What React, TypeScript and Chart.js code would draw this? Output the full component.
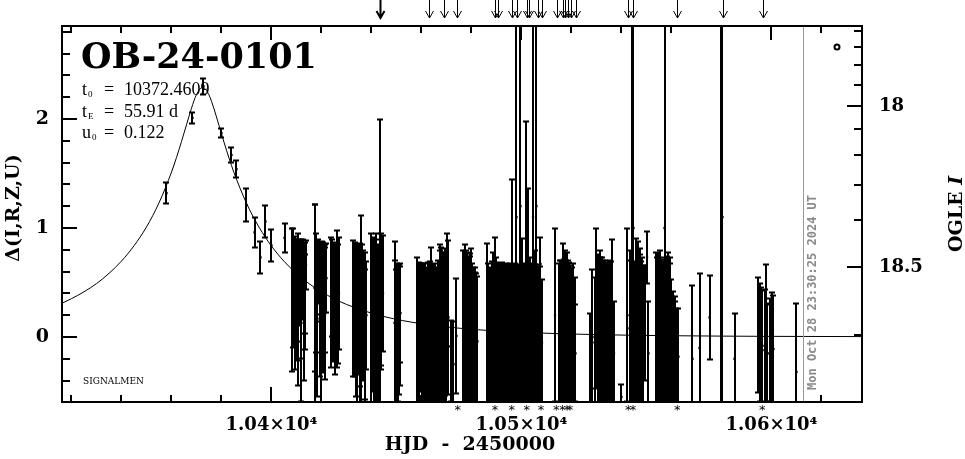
import React, { useEffect, useRef } from "react";
import { Chart, registerables } from "chart.js";
Chart.register(...registerables);

// ---------- axis ranges ----------
const T_MIN = 10316.2;
const T_MAX = 10636.2;
const D_MIN = -0.596;
const D_MAX = 2.853;

// ---------- observations: time, Δ, error ----------
const obsTime = [
  10358.0, 10368.4, 10372.8, 10380.0, 10384.0, 10386.0, 10390.0, 10393.2, 10395.6, 10397.6, 10400.0, 10405.2,
  10408.4, 10409.0, 10409.6, 10410.2, 10410.8, 10411.4, 10412.0, 10412.6, 10413.2, 10413.8,
  10417.2, 10417.6, 10418.4, 10419.2, 10420.0, 10420.8, 10421.6, 10422.0,
  10424.0, 10424.8, 10425.6, 10426.4, 10427.0,
  10432.8, 10433.6, 10434.4, 10435.2, 10436.0, 10436.8, 10437.6, 10438.0,
  10440.0, 10441.0, 10442.0, 10443.2, 10444.0, 10444.6,
  10449.2, 10449.8, 10450.4, 10451.0, 10451.6,
  10458.4, 10459.6, 10460.8, 10462.0, 10463.2, 10464.0, 10464.8, 10465.6,
  10466.4, 10467.2, 10468.0, 10468.8, 10469.6, 10470.4, 10470.8,
  10472.0, 10472.8, 10474.0,
  10476.8, 10477.6, 10478.4, 10479.2, 10480.0, 10480.8, 10481.6, 10482.4,
  10486.4, 10487.2, 10488.0, 10488.8, 10489.4, 10490.0, 10490.8, 10491.6, 10492.4, 10493.2,
  10494.0, 10494.8, 10495.6, 10496.4, 10497.2, 10498.0, 10498.8, 10499.6, 10500.4, 10501.2,
  10502.0, 10502.6, 10503.4, 10504.0, 10504.6, 10505.2, 10506.0, 10506.8, 10507.6, 10508.2,
  10513.4,
  10515.0, 10515.8, 10516.6, 10517.4, 10518.2, 10519.0, 10519.8, 10520.8, 10521.6,
  10527.6, 10528.4, 10530.0, 10530.8, 10531.6, 10532.4, 10533.2, 10534.0, 10534.8, 10535.6, 10536.4, 10537.0,
  10540.0,
  10542.4, 10543.2, 10544.4, 10544.8, 10545.6, 10546.0, 10546.8, 10547.6, 10548.4, 10549.2, 10550.2, 10550.8,
  10554.0, 10554.8, 10555.6, 10557.2, 10558.0, 10558.8, 10559.6, 10560.4, 10561.2, 10562.0, 10562.8,
  10568.4, 10571.2, 10575.2, 10580.0, 10580.4, 10585.2,
  10594.8, 10596.0, 10596.4, 10598.0, 10598.4, 10599.2, 10600.4, 10600.8,
  10610.0,
  // additional points inside the dense clusters
  10408.7, 10409.3, 10409.9, 10410.5, 10411.1, 10411.7, 10412.3, 10412.9, 10413.5,
  10417.9, 10418.8, 10419.6, 10420.4, 10421.2,
  10424.4, 10425.2, 10426.0, 10426.7,
  10433.2, 10434.0, 10434.8, 10435.6, 10436.4, 10437.2,
  10440.5, 10441.5, 10442.5, 10443.8,
  10449.5, 10450.1, 10450.7, 10451.3,
  10459.0, 10460.2, 10461.4, 10462.6, 10463.6, 10465.2,
  10466.8, 10467.6, 10468.4, 10469.2, 10470.0,
  10477.2, 10478.0, 10478.8, 10479.6, 10480.4, 10481.2, 10482.0,
  10486.8, 10487.6, 10488.4, 10489.8, 10491.2, 10492.0, 10492.8, 10493.6, 10494.4, 10495.2,
  10496.0, 10496.8, 10497.6, 10498.4, 10499.2, 10500.0, 10500.8, 10501.6, 10503.0, 10503.8,
  10505.6, 10506.4, 10507.2,
  10515.4, 10516.2, 10517.0, 10517.8, 10518.6, 10519.4, 10520.2, 10521.2,
  10529.2, 10531.2, 10532.0, 10532.8, 10533.6, 10534.4, 10535.2, 10536.0,
  10543.6, 10545.2, 10547.2, 10548.0, 10548.8,
  10554.4, 10555.2, 10556.0, 10556.6, 10557.6, 10558.4, 10559.2, 10560.0, 10560.8, 10561.6,
  10595.4, 10597.2, 10599.6,
];
const obsDelta = [
  1.32, 2.01, 2.30, 1.87, 1.67, 1.54, 1.21, 0.96, 0.73, 1.06, 0.84, 0.91,
  0.34, 0.62, 0.51, 0.28, 0.25, 0.59, 0.13, 0.53, 0.32, 0.66,
  0.45, 0.30, 0.17, 0.54, -0.25, 0.27, 0.22, 0.54,
  0.32, 0.32, 0.39, 0.35, 0.40,
  0.26, 0.25, 0.10, 0.20, 0.22, 0.20, 0.00, 0.20,
  0.15, 0.12, 0.15, 0.65, 0.34, 0.40,
  0.13, -0.02, 0.00, 0.07, 0.22,
  0.05, 0.09, 0.03, 0.00, 0.04, 0.11, 0.02, 0.00,
  0.00, 0.12, 0.25, 0.08, 0.10, 0.43, 0.18,
  -0.22, -0.25, 0.01,
  0.08, 0.12, 0.08, 0.07, 0.10, 0.00, -0.02, -0.04,
  0.12, -0.03, -0.05, 0.08, 0.15, 0.05, 0.02, 0.07, 0.03, 0.02,
  0.02, 0.00, 0.02, 0.40, 0.02, 1.10, 0.00, 1.20, 0.15, 0.02,
  0.68, 0.37, 0.05, 0.03, 1.10, 0.10, 1.20, 0.00, 0.67, -0.05,
  0.20,
  0.02, 0.04, 0.12, 0.13, 0.08, 0.03, -0.02, 0.02, -0.15,
  -0.20, 0.00, 0.26, 0.07, 0.09, 0.05, 0.04, 0.02, 0.02, 0.04, 0.15, -0.15,
  -0.55,
  0.20, 0.08, 1.10, 1.00, -0.02, 0.15, 0.13, 0.10, 0.05, 0.13, 0.73, -0.15,
  0.08, 0.07, 0.09, 1.00, 0.05, 0.08, 0.05, -0.12, -0.12, -0.18, -0.18,
  -0.20, -0.10, 0.18, 1.00, 1.10, -0.20,
  0.02, -0.10, -0.12, 0.02, -0.15, -0.15, -0.10, -0.11,
  -0.32,
  // additional
  0.45, 0.30, 0.60, 0.40, 0.50, 0.35, 0.55, 0.20, 0.45,
  0.40, 0.60, 0.25, 0.50, 0.35,
  0.45, 0.25, 0.50, 0.30,
  0.30, 0.15, 0.25, 0.10, 0.30, 0.10,
  0.20, 0.25, 0.10, 0.30,
  0.05, 0.08, 0.02, 0.10,
  0.03, 0.06, 0.02, 0.05, 0.00, 0.04,
  0.05, 0.10, 0.05, 0.12, 0.02,
  0.05, 0.10, 0.04, 0.06, 0.02, 0.00, -0.03,
  0.02, 0.00, 0.04, 0.03, 0.01, 0.03, 0.00, 0.02, 0.01, 0.03,
  0.00, 0.02, 0.01, 0.03, 0.00, 0.02, 0.01, 0.03, 0.00, 0.02,
  0.01, 0.03, 0.00,
  0.05, 0.02, 0.06, 0.03, 0.05, 0.00, 0.02, -0.05,
  -0.05, 0.05, 0.07, 0.03, 0.05, 0.01, 0.04, 0.02,
  0.05, 0.02, 0.08, 0.04, 0.02,
  0.05, 0.03, 0.06, 0.02, 0.04, 0.06, 0.02, -0.05, -0.10, -0.15,
  -0.05, -0.08, -0.12,
];
const obsErr = [
  0.10, 0.055, 0.08, 0.045, 0.07, 0.08, 0.155, 0.14, 0.155, 0.155, 0.15, 0.14,
  0.66, 0.17, 0.42, 0.50, 0.70, 0.25, 0.73, 0.37, 0.44, 0.23,
  0.77, 0.92, 0.72, 0.335, 0.40, 0.60, 0.61, 0.32,
  0.60, 0.55, 0.41, 0.63, 0.52,
  0.63, 0.62, 0.75, 0.66, 0.90, 0.60, 0.62, 0.50,
  0.80, 0.80, 0.80, 1.35, 0.61, 0.54,
  0.75, 0.64, 0.64, 0.60, 0.46,
  0.68, 0.59, 0.65, 0.64, 0.66, 0.72, 0.65, 0.64,
  0.64, 0.73, 0.58, 0.70, 0.72, 0.52, 0.71,
  0.38, 0.40, 0.53,
  0.72, 0.73, 0.70, 0.70, 0.72, 0.64, 0.62, 0.60,
  0.74, 0.60, 0.58, 0.70, 0.77, 0.68, 0.66, 0.56, 0.66, 0.65,
  0.66, 0.64, 0.66, 1.05, 0.66, 1.90, 0.65, 1.80, 0.76, 0.66,
  1.30, 1.00, 0.68, 0.65, 1.90, 0.70, 1.80, 0.65, 0.245, 0.58,
  0.80,
  0.66, 0.67, 0.74, 0.67, 0.70, 0.66, 0.61, 0.66, 0.45,
  0.42, 0.62, 0.74, 0.69, 0.71, 0.68, 0.67, 0.65, 0.65, 0.67, 0.75, 0.48,
  0.12,
  0.80, 0.72, 1.90, 2.00, 0.62, 0.76, 0.75, 0.72, 0.68, 0.53, 0.24, 0.48,
  0.70, 0.70, 0.71, 2.00, 0.68, 0.70, 0.68, 0.50, 0.50, 0.45, 0.45,
  0.68, 0.69, 0.39, 2.00, 1.90, 0.42,
  0.53, 0.56, 0.55, 0.65, 0.45, 0.46, 0.51, 0.50,
  0.63,
  // additional
  0.55, 0.60, 0.30, 0.45, 0.40, 0.55, 0.30, 0.60, 0.42,
  0.55, 0.30, 0.62, 0.38, 0.50,
  0.45, 0.60, 0.35, 0.55,
  0.55, 0.70, 0.60, 0.72, 0.55, 0.68,
  0.70, 0.65, 0.75, 0.60,
  0.66, 0.60, 0.62, 0.55,
  0.66, 0.62, 0.66, 0.64, 0.66, 0.64,
  0.66, 0.70, 0.68, 0.66, 0.68,
  0.70, 0.70, 0.70, 0.68, 0.66, 0.64, 0.62,
  0.66, 0.64, 0.66, 0.66, 0.65, 0.64, 0.66, 0.64, 0.66, 0.64,
  0.66, 0.65, 0.66, 0.64, 0.66, 0.64, 0.65, 0.64, 0.66, 0.65,
  0.66, 0.64, 0.65,
  0.66, 0.68, 0.66, 0.68, 0.66, 0.66, 0.62, 0.60,
  0.60, 0.68, 0.66, 0.68, 0.64, 0.66, 0.65, 0.68,
  0.66, 0.68, 0.68, 0.66, 0.64,
  0.68, 0.70, 0.66, 0.68, 0.66, 0.68, 0.66, 0.58, 0.52, 0.48,
  0.55, 0.52, 0.48,
];

// ---------- model curve ----------
const modelTime = [
  10316.2, 10320, 10325, 10330, 10335, 10340, 10345, 10350, 10355, 10360, 10362, 10364, 10366, 10368, 10370,
  10372.5, 10375, 10377, 10379, 10381, 10383, 10385, 10390, 10395, 10400, 10405, 10410, 10415, 10420, 10430,
  10445, 10460, 10480, 10500, 10530, 10560, 10600, 10636.2,
];
const modelDelta = [
  0.31, 0.352, 0.415, 0.49, 0.584, 0.697, 0.837, 1.01, 1.231, 1.513, 1.647, 1.794, 1.947, 2.099, 2.224,
  2.29, 2.221, 2.093, 1.941, 1.787, 1.642, 1.508, 1.227, 1.008, 0.834, 0.695, 0.582, 0.49, 0.414, 0.299,
  0.188, 0.122, 0.071, 0.043, 0.022, 0.012, 0.006, 0.004,
];

// ---------- ticks ----------
const xMajorTicks = [10400, 10500, 10600];
const xMinorTicks = [10320, 10340, 10360, 10380, 10420, 10440, 10460, 10480, 10520, 10540, 10560, 10580, 10620];
const yMajorTicks = [0, 1, 2];
const yMinorTicks = [-0.4, -0.2, 0.2, 0.4, 0.6, 0.8, 1.2, 1.4, 1.6, 1.8, 2.2, 2.4, 2.6, 2.8];
const magTickValues = [17.6, 17.7, 17.8, 17.9, 18.0, 18.1, 18.2, 18.3, 18.4, 18.5, 18.6];
const magTickDelta = [2.81, 2.657, 2.492, 2.312, 2.119, 1.905, 1.669, 1.397, 1.069, 0.642, 0.02];
const magMajorLabels = ["18", "18.5"];

// ---------- annotations ----------
const alertTimes = [
  10443.4, 10463.1, 10469.0, 10474.3, 10489.4, 10490.7, 10496.1, 10498.1, 10502.1, 10503.1, 10506.7, 10508.1,
  10514.1, 10516.7, 10517.4, 10518.7, 10519.7, 10521.8, 10542.7, 10544.5, 10562.3, 10580.5, 10596.5,
];
const flagTimes = [
  10474.5, 10489.4, 10496.1, 10502.1, 10507.8, 10513.9, 10516.4, 10518.2, 10519.4, 10542.7, 10544.6, 10562.3, 10596.3,
];
const nowTime = 10612.48;
const nowLabel = "Mon Oct 28 23:30:25 2024 UT";
const eventName = "OB-24-0101";
const paramSymbols = ["t", "t", "u"];
const paramSubs = ["0", "E", "0"];
const paramValues = ["10372.4609", "55.91 d", "0.122"];

const SERIF = "'DejaVu Serif', serif";
const TSERIF = "'Liberation Serif', serif";

const overlay = {
  id: "overlay",
  afterDatasetsDraw(chart: any) {
    const { ctx, chartArea: a, scales } = chart;
    const xs = scales.x;
    const ys = scales.y;
    ctx.save();
    // now line
    ctx.strokeStyle = "#999";
    ctx.lineWidth = 1;
    const nx = Math.round(xs.getPixelForValue(nowTime)) + 0.5;
    ctx.beginPath();
    ctx.moveTo(nx, a.top);
    ctx.lineTo(nx, a.bottom);
    ctx.stroke();

    // error bars
    ctx.beginPath();
    ctx.rect(a.left, a.top, a.right - a.left, a.bottom - a.top);
    ctx.clip();
    ctx.strokeStyle = "#000";
    ctx.lineWidth = 2;
    for (let i = 0; i < obsTime.length; i++) {
      const x = Math.round(xs.getPixelForValue(obsTime[i]));
      const yTop = ys.getPixelForValue(obsDelta[i] + obsErr[i]);
      const yBot = ys.getPixelForValue(obsDelta[i] - obsErr[i]);
      ctx.beginPath();
      ctx.moveTo(x, yTop);
      ctx.lineTo(x, yBot);
      ctx.moveTo(x - 3, Math.round(yTop) + 0.5);
      ctx.lineTo(x + 3, Math.round(yTop) + 0.5);
      ctx.moveTo(x - 3, Math.round(yBot) - 0.5);
      ctx.lineTo(x + 3, Math.round(yBot) - 0.5);
      ctx.stroke();
    }
    ctx.restore();

    ctx.save();
    ctx.strokeStyle = "#000";
    ctx.fillStyle = "#000";
    // frame
    ctx.lineWidth = 2;
    ctx.strokeRect(a.left, a.top, a.right - a.left, a.bottom - a.top);
    const tick = (x1: number, y1: number, x2: number, y2: number) => {
      ctx.beginPath();
      ctx.moveTo(x1, y1);
      ctx.lineTo(x2, y2);
      ctx.stroke();
    };
    xMajorTicks.forEach((v) => {
      const x = Math.round(xs.getPixelForValue(v));
      tick(x, a.bottom, x, a.bottom - 15);
      tick(x, a.top, x, a.top + 14);
    });
    xMinorTicks.forEach((v) => {
      const x = Math.round(xs.getPixelForValue(v));
      tick(x, a.bottom, x, a.bottom - 7);
      tick(x, a.top, x, a.top + 7);
    });
    yMajorTicks.forEach((v) => {
      const y = Math.round(ys.getPixelForValue(v));
      tick(a.left, y, a.left + 15, y);
    });
    yMinorTicks.forEach((v) => {
      const y = Math.round(ys.getPixelForValue(v));
      tick(a.left, y, a.left + 8, y);
    });
    magTickValues.forEach((m, i) => {
      const y = Math.round(ys.getPixelForValue(magTickDelta[i]));
      const major = Math.abs(m * 2 - Math.round(m * 2)) < 1e-6;
      tick(a.right, y, a.right - (major ? 15 : 8), y);
    });

    // alert arrows on top
    alertTimes.forEach((t, i) => {
      const x = Math.round(xs.getPixelForValue(t)) + 0.5;
      ctx.lineWidth = i === 0 ? 2 : 1;
      ctx.beginPath();
      ctx.moveTo(x, 0);
      ctx.lineTo(x, 18);
      ctx.moveTo(x - 4, 11);
      ctx.lineTo(x, 18);
      ctx.lineTo(x + 4, 11);
      ctx.stroke();
    });
    // asterisks under axis
    ctx.font = "13px 'DejaVu Sans'";
    ctx.textAlign = "center";
    ctx.textBaseline = "top";
    flagTimes.forEach((t) => {
      ctx.fillText("*", xs.getPixelForValue(t), a.bottom + 2);
    });

    // event name
    ctx.textAlign = "left";
    ctx.textBaseline = "alphabetic";
    ctx.font = `bold 35px ${SERIF}`;
    ctx.fillText(eventName, 81, 68);
    // params
    const rows = [95, 117, 138];
    paramSymbols.forEach((s, i) => {
      const y = rows[i];
      ctx.font = `18px ${TSERIF}`;
      ctx.fillText(s, 82, y);
      const w = ctx.measureText(s).width;
      ctx.font = `9px ${TSERIF}`;
      ctx.fillText(paramSubs[i], 82 + w + 1, y + 2);
      ctx.font = `18px ${TSERIF}`;
      ctx.fillText("=", 104, y);
      ctx.fillText(paramValues[i], 124, y);
    });
    // SIGNALMEN
    ctx.font = `9px ${SERIF}`;
    ctx.fillText("SIGNALMEN", 83, 384);

    // bottom title
    ctx.font = `bold 19px ${SERIF}`;
    ctx.textAlign = "center";
    ctx.fillText("HJD  -  2450000", 470, 450);

    // left title
    ctx.save();
    ctx.translate(19, 208);
    ctx.rotate(-Math.PI / 2);
    ctx.textAlign = "center";
    ctx.textBaseline = "alphabetic";
    ctx.fillText("Δ(I,R,Z,U)", 0, 0);
    ctx.restore();

    // right title
    ctx.save();
    ctx.translate(962, 214);
    ctx.rotate(-Math.PI / 2);
    ctx.font = `bold 19px ${SERIF}`;
    const p1 = "OGLE ";
    const w1 = ctx.measureText(p1).width;
    ctx.font = `italic bold 19px ${SERIF}`;
    const w2 = ctx.measureText("I").width;
    const start = -(w1 + w2) / 2;
    ctx.textAlign = "left";
    ctx.font = `bold 19px ${SERIF}`;
    ctx.fillText(p1, start, 0);
    ctx.font = `italic bold 19px ${SERIF}`;
    ctx.fillText("I", start + w1, 0);
    ctx.restore();

    // now label
    ctx.save();
    ctx.fillStyle = "#8a8a8a";
    ctx.translate(nx + 12, 390);
    ctx.rotate(-Math.PI / 2);
    ctx.font = "bold 12px 'DejaVu Sans Mono'";
    ctx.textAlign = "left";
    ctx.fillText(nowLabel, 0, 0);
    ctx.restore();

    // small circle marker
    ctx.lineWidth = 2;
    ctx.beginPath();
    ctx.arc(837, 47, 2.5, 0, Math.PI * 2);
    ctx.stroke();
    ctx.restore();
  },
};

export default function App() {
  const ref = useRef<HTMLCanvasElement | null>(null);
  useEffect(() => {
    const canvas = ref.current;
    if (!canvas) return;
    const chart = new Chart(canvas, {
      type: "scatter",
      data: {
        datasets: [
          {
            type: "line",
            data: modelTime.map((t, i) => ({ x: t, y: modelDelta[i] })),
            borderColor: "#000",
            borderWidth: 1,
            pointRadius: 0,
            cubicInterpolationMode: "monotone",
            fill: false,
            xAxisID: "x",
            yAxisID: "y",
          } as any,
          {
            type: "scatter",
            data: obsTime.map((t, i) => ({ x: t, y: obsDelta[i] })),
            pointStyle: "rect",
            pointRadius: 1.6,
            backgroundColor: "#000",
            borderWidth: 0,
            xAxisID: "x",
            yAxisID: "y",
          } as any,
        ],
      },
      options: {
        animation: false,
        responsive: false,
        maintainAspectRatio: false,
        layout: { padding: { top: 26, left: 0, right: 0, bottom: 0 } },
        plugins: { legend: { display: false }, tooltip: { enabled: false } },
        scales: {
          x: {
            type: "linear",
            position: "bottom",
            min: T_MIN,
            max: T_MAX,
            bounds: "data",
            grid: { display: false },
            border: { display: false },
            afterBuildTicks: (s: any) => {
              s.ticks = xMajorTicks.map((v) => ({ value: v }));
            },
            afterFit: (s: any) => {
              s.height = 57;
            },
            ticks: {
              autoSkip: false,
              maxRotation: 0,
              padding: 5,
              color: "#000",
              font: { family: SERIF, size: 18, weight: "bold" },
              callback: (v: any) => (Number(v) / 10000).toFixed(2) + "×10⁴",
            },
          },
          y: {
            type: "linear",
            position: "left",
            min: D_MIN,
            max: D_MAX,
            bounds: "data",
            grid: { display: false },
            border: { display: false },
            afterBuildTicks: (s: any) => {
              s.ticks = yMajorTicks.map((v) => ({ value: v }));
            },
            afterFit: (s: any) => {
              s.width = 62;
            },
            ticks: {
              autoSkip: false,
              padding: 5,
              color: "#000",
              font: { family: SERIF, size: 19, weight: "bold" },
              callback: (v: any) => String(v),
            },
          },
          y2: {
            type: "linear",
            position: "right",
            min: D_MIN,
            max: D_MAX,
            bounds: "data",
            grid: { display: false },
            border: { display: false },
            afterBuildTicks: (s: any) => {
              s.ticks = magTickValues
                .map((m, i) => ({ m, v: magTickDelta[i] }))
                .filter((o) => Math.abs(o.m * 2 - Math.round(o.m * 2)) < 1e-6)
                .map((o) => ({ value: o.v }));
            },
            afterFit: (s: any) => {
              s.width = 103;
            },
            ticks: {
              autoSkip: false,
              padding: 9,
              color: "#000",
              font: { family: SERIF, size: 18, weight: "bold" },
              callback: (_v: any, i: number) => magMajorLabels[i],
            },
          },
        },
      } as any,
      plugins: [overlay],
    });
    return () => chart.destroy();
  }, []);
  return (
    <div style={{ position: "fixed", left: 0, top: 0, width: 965, height: 459, background: "#fff" }}>
      <canvas ref={ref} width={965} height={459} style={{ display: "block" }} />
    </div>
  );
}
